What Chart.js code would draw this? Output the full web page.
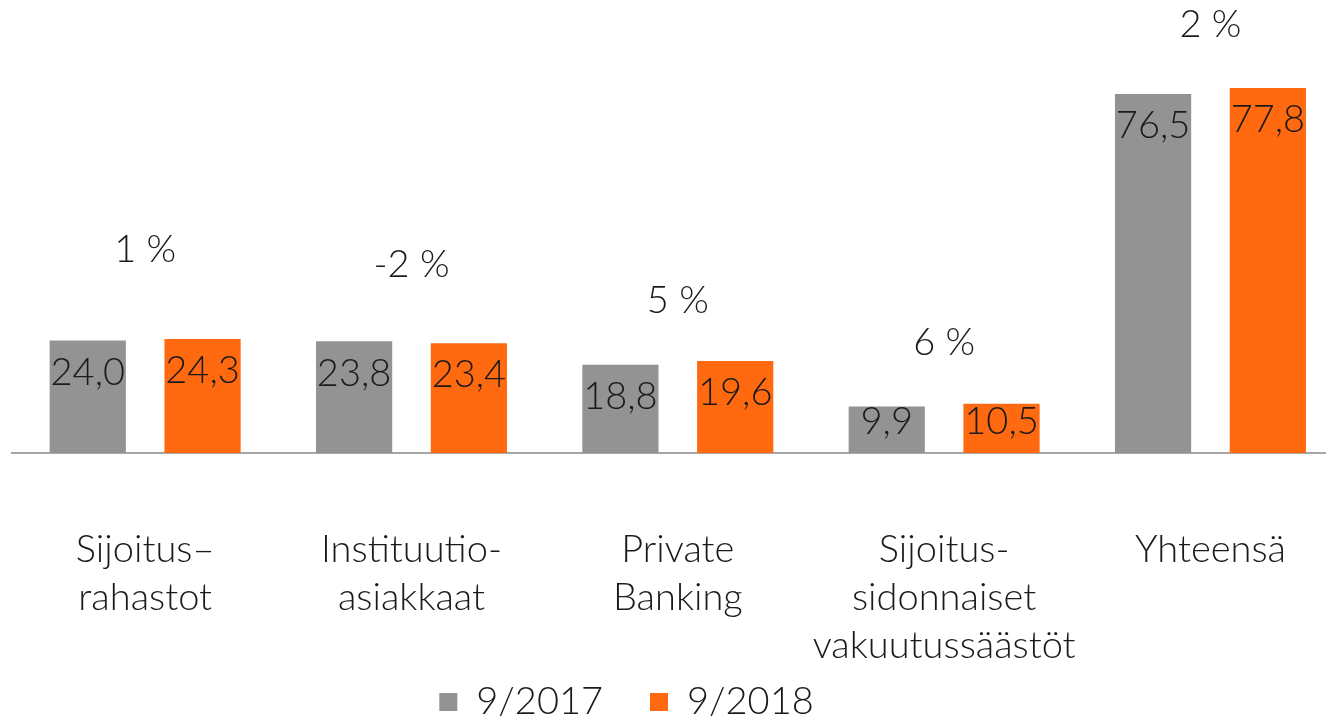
<!DOCTYPE html>
<html>
<head>
<meta charset="utf-8">
<script src="https://cdn.jsdelivr.net/npm/chart.js@4"></script>
<style>
  html, body { margin: 0; padding: 0; background: #fff; overflow: hidden; }
  /* a little wider than the window: the plot runs off the right edge */
  #wrap { width: 1351px; height: 718px; position: relative; }
</style>
</head>
<body>
<div id="wrap"><canvas id="chart"></canvas></div>
<script>
const categories = [
  ["Sijoitus–", "rahastot"],
  ["Instituutio-", "asiakkaat"],
  ["Private", "Banking"],
  ["Sijoitus-", "sidonnaiset", "vakuutussäästöt"],
  ["Yhteensä"],
];
const values2017 = [24.0, 23.8, 18.8, 9.9, 76.5];
const values2018 = [24.3, 23.4, 19.6, 10.5, 77.8];
const changeLabels = ["1 %", "-2 %", "5 %", "6 %", "2 %"];
// height (in value units) where each change label sits
const changeLevels = [43.3, 40.1, 32.4, 23.6, 91.2];

const fontFamily = "Lato, 'Open Sans', sans-serif";

const labelPlugin = {
  id: "labels",
  afterDatasetsDraw(chart) {
    const ctx = chart.ctx;
    ctx.save();
    ctx.fillStyle = "#1a1a1a";
    ctx.textAlign = "center";
    ctx.textBaseline = "middle";
    ctx.font = "300 38px " + fontFamily;
    chart.data.datasets.forEach((ds, i) => {
      chart.getDatasetMeta(i).data.forEach((bar, j) => {
        // inside end, but kept inside short bars
        const ty = Math.min(bar.y + 32, bar.base - 31);
        ctx.fillText(ds.data[j].toFixed(1).replace(".", ","), bar.x, ty);
      });
    });
    const x = chart.scales.x;
    const y = chart.scales.y;
    changeLabels.forEach((t, j) => {
      ctx.fillText(t, x.getPixelForValue(j), y.getPixelForValue(changeLevels[j]));
    });
    ctx.restore();
  },
};

// move the legend up and left after layout so the axis labels keep their room
const legendMove = {
  id: "legendMove",
  afterLayout(chart) {
    const l = chart.legend;
    l.top -= 42;
    l.bottom -= 42;
    l.left -= 55;
    l.right -= 55;
  },
};

new Chart(document.getElementById("chart"), {
  type: "bar",
  data: {
    labels: categories,
    datasets: [
      {
        label: "9/2017",
        data: values2017,
        backgroundColor: "#939393",
        categoryPercentage: 0.862,
        barPercentage: 0.664,
      },
      {
        label: "9/2018",
        data: values2018,
        backgroundColor: "#ff6a10",
        categoryPercentage: 0.862,
        barPercentage: 0.664,
      },
    ],
  },
  options: {
    responsive: true,
    maintainAspectRatio: false,
    animation: false,
    layout: { padding: { left: 12, top: 0, right: 0, bottom: -55 } },
    scales: {
      x: {
        grid: { display: false },
        border: { color: "#a6a6a6", width: 2 },
        afterFit(scale) {
          scale.height = 225;
        },
        ticks: {
          color: "#1a1a1a",
          padding: 65,
          maxRotation: 0,
          autoSkip: false,
          font: { family: fontFamily, size: 38, weight: 300, lineHeight: 1.263 },
        },
      },
      y: {
        display: false,
        min: 0,
        max: 96.55,
      },
    },
    plugins: {
      tooltip: { enabled: false },
      legend: {
        position: "bottom",
        labels: {
          color: "#1a1a1a",
          boxWidth: 18,
          boxHeight: 18,
          padding: 47,
          font: { family: fontFamily, size: 38, weight: 300 },
        },
      },
    },
  },
  plugins: [labelPlugin, legendMove],
});
</script>
</body>
</html>
